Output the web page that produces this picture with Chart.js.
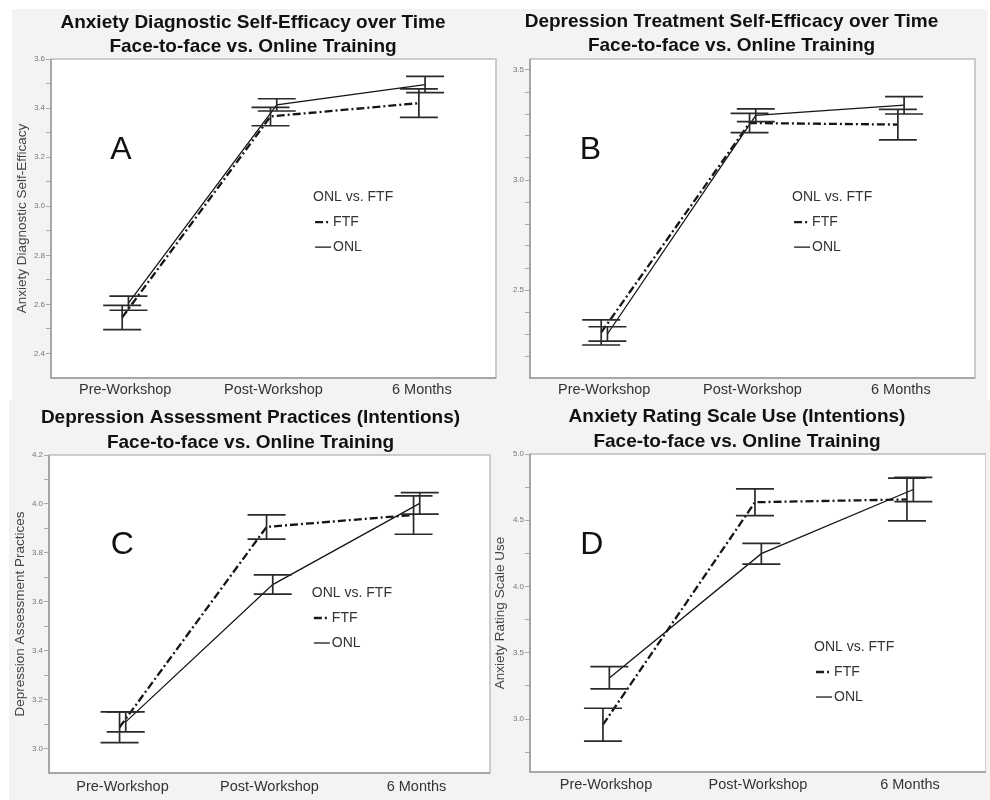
<!DOCTYPE html>
<html><head><meta charset="utf-8">
<script src="https://cdn.jsdelivr.net/npm/chart.js@4.4.1/dist/chart.umd.min.js"></script>
<style>
html,body{margin:0;padding:0;background:#fff;}
body{width:990px;height:800px;position:relative;overflow:hidden;}
.bg{position:absolute;background:#f3f3f3;}
.pane{position:absolute;}
canvas{display:block;}
</style></head><body>
<div class="bg" style="left:12px;top:9px;width:975px;height:391px"></div>
<div class="bg" style="left:9px;top:400px;width:981px;height:400px"></div>
<div class="pane" style="left:10px;top:9px"><canvas id="cA" width="487" height="391"></canvas></div>
<div class="pane" style="left:488px;top:9px"><canvas id="cB" width="488" height="391"></canvas></div>
<div class="pane" style="left:11px;top:400px"><canvas id="cC" width="480" height="400"></canvas></div>
<div class="pane" style="left:488px;top:400px"><canvas id="cD" width="498" height="400"></canvas></div>
<script>
// ---------- data ----------
const categories = ['Pre-Workshop', 'Post-Workshop', '6 Months'];
const seriesNames = ['FTF', 'ONL'];
const legendTitle = 'ONL vs. FTF';

// Panel A: Anxiety Diagnostic Self-Efficacy
const titleA = ['Anxiety Diagnostic Self-Efficacy over Time', 'Face-to-face vs. Online Training'];
const yTitleA = 'Anxiety Diagnostic Self-Efficacy';
const yTicksA = [2.4, 2.6, 2.8, 3.0, 3.2, 3.4, 3.6];
const ftfA = [2.547, 3.366, 3.42];
const ftfLoA = [2.497, 3.328, 3.362];
const ftfHiA = [2.596, 3.403, 3.478];
const onlA = [2.605, 3.413, 3.496];
const onlLoA = [2.576, 3.388, 3.463];
const onlHiA = [2.634, 3.438, 3.529];

// Panel B: Depression Treatment Self-Efficacy
const titleB = ['Depression Treatment Self-Efficacy over Time', 'Face-to-face vs. Online Training'];
const yTitleB = '';
const yTicksB = [2.5, 3.0, 3.5];
const ftfB = [2.307, 3.259, 3.252];
const ftfLoB = [2.25, 3.215, 3.182];
const ftfHiB = [2.364, 3.303, 3.321];
const onlB = [2.30, 3.294, 3.34];
const onlLoB = [2.268, 3.265, 3.30];
const onlHiB = [2.333, 3.323, 3.379];

// Panel C: Depression Assessment Practices
const titleC = ['Depression Assessment Practices (Intentions)', 'Face-to-face vs. Online Training'];
const yTitleC = 'Depression Assessment Practices';
const yTicksC = [3.0, 3.2, 3.4, 3.6, 3.8, 4.0, 4.2];
const ftfC = [3.087, 3.906, 3.955];
const ftfLoC = [3.024, 3.856, 3.876];
const ftfHiC = [3.15, 3.955, 4.033];
const onlC = [3.109, 3.67, 4.002];
const onlLoC = [3.068, 3.631, 3.958];
const onlHiC = [3.15, 3.71, 4.046];

// Panel D: Anxiety Rating Scale Use
const titleD = ['Anxiety Rating Scale Use (Intentions)', 'Face-to-face vs. Online Training'];
const yTitleD = 'Anxiety Rating Scale Use';
const yTicksD = [3.0, 3.5, 4.0, 4.5, 5.0];
const ftfD = [2.957, 4.636, 4.657];
const ftfLoD = [2.833, 4.535, 4.495];
const ftfHiD = [3.081, 4.737, 4.818];
const onlD = [3.31, 4.248, 4.732];
const onlLoD = [3.227, 4.169, 4.641];
const onlHiD = [3.396, 4.326, 4.823];

// ---------- style ----------
const FONT = '"Liberation Sans", Arial, Helvetica, sans-serif';
Chart.defaults.font.family = FONT;
const dodge = { FTF: -0.02, ONL: 0.022 };
const ftfDash = [8, 3, 2, 3];

const plotBox = {
  id: 'plotBox',
  beforeDraw(chart) {
    const a = chart.chartArea, c = chart.ctx;
    c.save(); c.fillStyle = '#ffffff';
    c.fillRect(a.left, a.top, a.right - a.left, a.bottom - a.top);
    c.restore();
  },
  beforeDatasetsDraw(chart) {
    const a = chart.chartArea, c = chart.ctx;
    c.save();
    c.strokeStyle = '#bdbdbd'; c.lineWidth = 1.5;
    c.strokeRect(a.left, a.top, a.right - a.left, a.bottom - a.top);
    c.strokeStyle = '#9a9a9a'; c.lineWidth = 1.5;
    c.beginPath(); c.moveTo(a.left, a.top); c.lineTo(a.left, a.bottom); c.lineTo(a.right, a.bottom); c.stroke();
    c.restore();
  }
};

const errorBars = {
  id: 'errorBars',
  afterDatasetsDraw(chart) {
    const c = chart.ctx, xs = chart.scales.x, ys = chart.scales.y;
    c.save(); c.strokeStyle = '#2a2a2a'; c.lineWidth = 1.7; c.setLineDash([]);
    chart.data.datasets.forEach(ds => {
      ds.data.forEach((p, i) => {
        const x = xs.getPixelForValue(p.x);
        const yl = ys.getPixelForValue(ds.lo[i]), yh = ys.getPixelForValue(ds.hi[i]);
        c.beginPath();
        c.moveTo(x, yl); c.lineTo(x, yh);
        c.moveTo(x - 19, yl); c.lineTo(x + 19, yl);
        c.moveTo(x - 19, yh); c.lineTo(x + 19, yh);
        c.stroke();
      });
    });
    c.restore();
  }
};

const annot = {
  id: 'annot',
  afterDraw(chart) {
    const o = chart.options.plugins.annot, a = chart.chartArea, c = chart.ctx;
    const w = a.right - a.left, h = a.bottom - a.top;
    c.save();
    c.fillStyle = '#111'; c.textBaseline = 'middle'; c.textAlign = 'left';
    c.font = '32px ' + FONT;
    c.fillText(o.letter, a.left + o.lx * w, a.top + o.ly * h);
    const x0 = a.left + o.gx * w, y0 = a.top + o.gy * h;
    c.font = '14px ' + FONT; c.fillStyle = '#333';
    c.fillText(legendTitle, x0, y0);
    c.strokeStyle = '#1a1a1a';
    c.lineWidth = 2.4; c.setLineDash(ftfDash);
    c.beginPath(); c.moveTo(x0 + 2, y0 + 25); c.lineTo(x0 + 16, y0 + 25); c.stroke();
    c.setLineDash([]); c.lineWidth = 1.3;
    c.beginPath(); c.moveTo(x0 + 2, y0 + 50); c.lineTo(x0 + 18, y0 + 50); c.stroke();
    c.fillText(seriesNames[0], x0 + 20, y0 + 25);
    c.fillText(seriesNames[1], x0 + 20, y0 + 50);
    c.restore();
  }
};

function minorList(min, max, step) {
  const out = [];
  for (let k = Math.ceil(min / step - 1e-6); k * step <= max + 1e-6; k++) {
    const v = +(k * step).toFixed(3);
    if (Math.abs(v - min) > 1e-6) out.push(v);
  }
  return out;
}

function makeChart(id, p) {
  const minors = minorList(p.ymin, p.ymax, p.minorStep);
  return new Chart(document.getElementById(id), {
    type: 'line',
    data: {
      datasets: [
        { label: seriesNames[0], data: p.ftf.map((v, i) => ({ x: i + dodge.FTF, y: v })), lo: p.ftfLo, hi: p.ftfHi,
          borderColor: '#151515', borderWidth: 2.3, borderDash: ftfDash, pointRadius: 0, fill: false, tension: 0 },
        { label: seriesNames[1], data: p.onl.map((v, i) => ({ x: i + dodge.ONL, y: v })), lo: p.onlLo, hi: p.onlHi,
          borderColor: '#151515', borderWidth: 1.3, pointRadius: 0, fill: false, tension: 0 }
      ]
    },
    options: {
      responsive: false, animation: false, devicePixelRatio: 1,
      layout: { padding: { left: 0, right: p.padR, top: 0, bottom: 0 } },
      plugins: {
        legend: { display: false }, tooltip: { enabled: false },
        title: { display: true, text: p.title, color: '#111',
          font: { size: 19, weight: 'bold', lineHeight: p.tlh + 'px' },
          padding: { top: p.tpt, bottom: p.tpb } },
        annot: { letter: p.letter, lx: p.lx, ly: p.ly, gx: p.gx, gy: p.gy }
      },
      scales: {
        x: {
          type: 'linear', min: -0.5, max: 2.5,
          afterBuildTicks: s => { s.ticks = categories.map((c, i) => ({ value: i })); },
          ticks: { callback: v => categories[Math.round(v)], font: { size: 14.5 }, color: '#333', padding: p.xpad, maxRotation: 0, autoSkip: false },
          grid: { display: false, drawTicks: false }, border: { display: false },
          afterFit: s => { s.height = p.xh; }
        },
        y: {
          min: p.ymin, max: p.ymax,
          afterBuildTicks: s => { s.ticks = minors.map(v => ({ value: v })); },
          ticks: { callback: v => p.yTicks.some(t => Math.abs(t - v) < 1e-6) ? v.toFixed(1) : '', font: { size: 8 }, color: '#777', padding: 1, autoSkip: false },
          grid: { drawOnChartArea: false, tickLength: 5, color: '#aaa' }, border: { display: false },
          title: { display: !!p.yTitle, text: p.yTitle, color: '#444', font: { size: 13.5 }, padding: { top: p.ytp, bottom: 0 } },
          afterFit: s => { s.width = p.yw; }
        }
      }
    },
    plugins: [plotBox, errorBars, annot]
  });
}

makeChart('cA', { title: titleA, yTitle: yTitleA, yTicks: yTicksA, ymin: 2.3, ymax: 3.6, minorStep: 0.1,
  ftf: ftfA, ftfLo: ftfLoA, ftfHi: ftfHiA, onl: onlA, onlLo: onlLoA, onlHi: onlHiA,
  padR: 1, tlh: 24, tpt: 2, tpb: 0, xh: 22, xpad: 3, yw: 41, ytp: 4,
  letter: 'A', lx: 0.133, ly: 0.285, gx: 0.589, gy: 0.433 });
makeChart('cB', { title: titleB, yTitle: yTitleB, yTicks: yTicksB, ymin: 2.1, ymax: 3.55, minorStep: 0.1,
  ftf: ftfB, ftfLo: ftfLoB, ftfHi: ftfHiB, onl: onlB, onlLo: onlLoB, onlHi: onlHiB,
  padR: 1, tlh: 24, tpt: 1, tpb: 1, xh: 22, xpad: 3, yw: 42, ytp: 0,
  letter: 'B', lx: 0.112, ly: 0.285, gx: 0.589, gy: 0.433 });
makeChart('cC', { title: titleC, yTitle: yTitleC, yTicks: yTicksC, ymin: 2.9, ymax: 4.2, minorStep: 0.1,
  ftf: ftfC, ftfLo: ftfLoC, ftfHi: ftfHiC, onl: onlC, onlLo: onlLoC, onlHi: onlHiC,
  padR: 1, tlh: 24.5, tpt: 5.75, tpb: 0.25, xh: 27, xpad: 5, yw: 38, ytp: 1,
  letter: 'C', lx: 0.14, ly: 0.283, gx: 0.596, gy: 0.434 });
makeChart('cD', { title: titleD, yTitle: yTitleD, yTicks: yTicksD, ymin: 2.6, ymax: 5.0, minorStep: 0.25,
  ftf: ftfD, ftfLo: ftfLoD, ftfHi: ftfHiD, onl: onlD, onlLo: onlLoD, onlHi: onlHiD,
  padR: 0, tlh: 24.5, tpt: 4.75, tpb: 0.25, xh: 28, xpad: 4, yw: 42, ytp: 4,
  letter: 'D', lx: 0.11, ly: 0.286, gx: 0.623, gy: 0.607 });
</script>
</body></html>
